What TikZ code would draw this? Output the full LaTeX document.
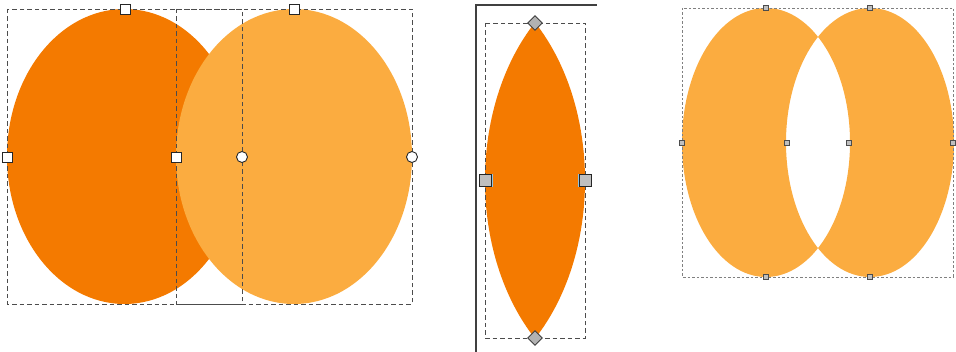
\documentclass[tikz,border=0pt]{standalone}
\usetikzlibrary{shapes.geometric}
\definecolor{darkor}{HTML}{F47A00}
\definecolor{lightor}{HTML}{FBAC40}
\definecolor{hblue}{HTML}{8FC3E0}
\tikzset{
  selbox/.style={draw=black!70, line width=0.9pt, dash pattern=on 4.5pt off 3pt},
  thinbox/.style={draw=black!50, line width=0.5pt, dash pattern=on 2.5pt off 2pt},
  sqhandle/.style={draw=black!85, fill=white, line width=0.9pt, minimum size=10pt, inner sep=0pt, rectangle},
  cirhandle/.style={draw=black!85, fill=white, line width=0.9pt, minimum size=11pt, inner sep=0pt, circle},
  dmhandle/.style={draw=black!75, fill=black!30, line width=0.9pt, diamond, minimum size=15pt, inner sep=0pt},
  bsqhandle/.style={draw=black!85, fill=black!25, line width=1pt, minimum size=12pt, inner sep=0pt, rectangle},
  smhandle/.style={draw=black!70, fill=black!25, line width=0.6pt, minimum size=5.5pt, inner sep=0pt, rectangle},
}
\begin{document}
\begin{tikzpicture}[x=1pt,y=-1pt]
\useasboundingbox (0,0) rectangle (956,352);
% ---------- panel 1 ----------
\fill[darkor] (124.5,156.5) ellipse [x radius=117.5, y radius=147.5];
\fill[lightor] (294,156.5) ellipse [x radius=118, y radius=147.5];
\draw[selbox] (7,9) rectangle (242,304);
\draw[selbox] (176,9) rectangle (412,304);
\node[sqhandle] (a1) at (125,9) {};
\node[sqhandle] (a2) at (294,9) {};
\node[sqhandle] (a3) at (7,157) {};
\node[sqhandle] (a4) at (176,157) {};
\node[cirhandle] (a5) at (242,157) {};
\node[cirhandle] (a6) at (412,157) {};
% ---------- panel 2 ----------
\draw[black!75, line width=1.4pt] (476,352) -- (476,5) -- (597,5);
\begin{scope}
  \clip (435,180.5) ellipse [x radius=150, y radius=212];
  \fill[darkor] (635,180.5) ellipse [x radius=150, y radius=212];
\end{scope}
\draw[selbox] (485,23) rectangle (585,338);
\node[dmhandle] (b1) at (535,23) {};
\node[dmhandle] (b2) at (535,338) {};
\node[bsqhandle] (b3) at (485,181) {};
\node[bsqhandle] (b4) at (585,181) {};
\draw[hblue, line width=1pt] ([xshift=0.5pt]b3.north east) -- ([xshift=0.5pt]b3.south east);
\draw[hblue, line width=1pt] ([xshift=-0.5pt]b4.north west) -- ([xshift=-0.5pt]b4.south west);
% ---------- panel 3 ----------
\fill[lightor, even odd rule] (766,142.5) ellipse [x radius=84, y radius=134.5]
  (870,142.5) ellipse [x radius=84, y radius=134.5];
\draw[thinbox] (682,8) rectangle (953,277);
\node[smhandle] (c1) at (766,8) {};
\node[smhandle] (c2) at (870,8) {};
\node[smhandle] (c3) at (682,143) {};
\node[smhandle] (c4) at (787,143) {};
\node[smhandle] (c5) at (849,143) {};
\node[smhandle] (c6) at (953,143) {};
\node[smhandle] (c7) at (766,277) {};
\node[smhandle] (c8) at (870,277) {};
\end{tikzpicture}
\end{document}
